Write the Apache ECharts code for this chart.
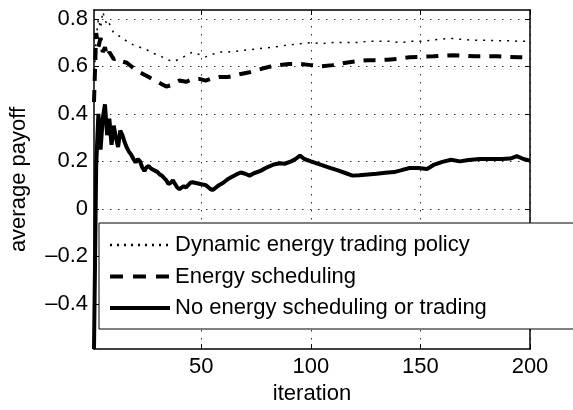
<!DOCTYPE html>
<html>
<head>
<meta charset="utf-8">
<script src="https://cdn.jsdelivr.net/npm/echarts@6/dist/echarts.min.js"></script>
<style>
  html, body { margin: 0; padding: 0; background: #fff; }
  #payoffChart { width: 573px; height: 410px; }
</style>
</head>
<body>
<div id="payoffChart"></div>
<script>
// tick labels
const xTicks = [50, 100, 150, 200];
const yTicks = [-0.4, -0.2, 0, 0.2, 0.4, 0.6, 0.8];

const seriesNames = ['Dynamic energy trading policy', 'Energy scheduling', 'No energy scheduling or trading'];

// Dynamic energy trading policy (dotted)
const policyIter = [1, 2, 3, 4, 5, 6, 7, 8, 10, 12, 14, 16, 19, 22, 25, 28, 31, 34, 37, 40, 43, 46, 49, 52, 55, 58, 62, 67, 72, 77, 82, 86, 90, 95, 100, 105, 110, 116, 121, 126, 131, 136, 141, 146, 150, 155, 160, 165, 170, 175, 180, 185, 190, 195, 200];
const policyVal = [0.55, 0.72, 0.80, 0.76, 0.83, 0.80, 0.77, 0.78, 0.74, 0.73, 0.72, 0.705, 0.69, 0.68, 0.67, 0.655, 0.645, 0.63, 0.62, 0.63, 0.645, 0.66, 0.65, 0.64, 0.65, 0.66, 0.66, 0.665, 0.67, 0.675, 0.68, 0.685, 0.69, 0.695, 0.70, 0.695, 0.70, 0.70, 0.70, 0.705, 0.705, 0.705, 0.70, 0.705, 0.705, 0.71, 0.715, 0.717, 0.712, 0.71, 0.71, 0.708, 0.708, 0.705, 0.705];

// Energy scheduling (dashed)
const schedIter = [1, 2, 3, 4, 5, 6, 7, 8, 10, 12, 14, 16, 18, 20, 22, 24, 26, 28, 30, 32, 34, 36, 38, 40, 43, 46, 49, 52, 55, 58, 62, 65, 68, 72, 77, 81, 85, 90, 95, 100, 105, 110, 116, 121, 126, 131, 135, 140, 145, 150, 156, 160, 165, 170, 175, 180, 185, 190, 195, 200];
const schedVal = [0.45, 0.74, 0.68, 0.72, 0.66, 0.68, 0.64, 0.66, 0.63, 0.635, 0.62, 0.615, 0.60, 0.585, 0.575, 0.565, 0.555, 0.545, 0.535, 0.525, 0.515, 0.52, 0.53, 0.54, 0.535, 0.545, 0.547, 0.54, 0.55, 0.555, 0.555, 0.56, 0.568, 0.575, 0.588, 0.598, 0.605, 0.61, 0.61, 0.605, 0.60, 0.605, 0.615, 0.622, 0.626, 0.626, 0.628, 0.632, 0.638, 0.64, 0.642, 0.645, 0.647, 0.645, 0.642, 0.642, 0.642, 0.64, 0.638, 0.638];

// No energy scheduling or trading (solid)
const noneIter = [1, 2, 3, 4, 5, 6, 7, 8, 9, 10, 11, 12, 13, 14, 15, 16, 17, 18, 19, 20, 21, 22, 23, 24, 25, 26, 27, 28, 29, 30, 31, 32, 33, 34, 35, 36, 37, 38, 39, 40, 41, 42, 43, 44, 45, 46, 48, 50, 52, 54, 55, 56, 58, 60, 62, 64, 66, 68, 70, 72, 74, 77, 80, 83, 86, 88, 91, 93, 95, 97, 100, 104, 108, 112, 116, 119, 122, 126, 130, 134, 138, 141, 145, 149, 153, 156, 160, 164, 168, 172, 177, 182, 187, 191, 194, 197, 200];
const noneVal = [-0.59, 0.18, 0.40, 0.25, 0.38, 0.44, 0.31, 0.38, 0.27, 0.35, 0.30, 0.26, 0.33, 0.31, 0.28, 0.257, 0.24, 0.228, 0.21, 0.195, 0.21, 0.20, 0.175, 0.16, 0.175, 0.18, 0.17, 0.165, 0.16, 0.155, 0.145, 0.14, 0.13, 0.12, 0.105, 0.11, 0.12, 0.105, 0.09, 0.083, 0.09, 0.095, 0.09, 0.10, 0.11, 0.112, 0.108, 0.104, 0.10, 0.085, 0.079, 0.085, 0.10, 0.11, 0.125, 0.135, 0.145, 0.153, 0.148, 0.14, 0.15, 0.16, 0.175, 0.187, 0.192, 0.19, 0.20, 0.21, 0.224, 0.21, 0.20, 0.187, 0.175, 0.163, 0.15, 0.14, 0.142, 0.145, 0.148, 0.152, 0.155, 0.162, 0.172, 0.172, 0.168, 0.185, 0.198, 0.207, 0.20, 0.206, 0.21, 0.21, 0.21, 0.212, 0.222, 0.21, 0.203];

const font = '"Liberation Sans", Arial, Helvetica, sans-serif';

function pairs(xs, ys) {
    return xs.map((x, i) => [x, ys[i]]);
}

const chart = echarts.init(document.getElementById('payoffChart'));

const gridLine = { show: true, lineStyle: { color: '#333', width: 1, type: [1.5, 6.5] } };
const boxLine = { show: true, onZero: false, lineStyle: { color: '#000', width: 1.5 } };
const tickStyle = { color: '#000', width: 1 };
const noMarker = { color: 'rgba(0,0,0,0)', borderColor: 'rgba(0,0,0,0)', borderWidth: 0 };

const option = {
    animation: false,
    backgroundColor: '#fff',
    grid: { left: 94, right: 43, top: 10, bottom: 56 },
    // legend frame runs off the right edge, like the original figure
    graphic: [{
        type: 'rect', z: 3, silent: true,
        shape: { x: 99, y: 223, width: 500, height: 106 },
        style: { fill: '#fff', stroke: '#000', lineWidth: 1 }
    }],
    legend: {
        orient: 'vertical',
        left: 99,
        top: 223,
        padding: [10, 20, 8, 9],
        itemGap: 7.5,
        itemWidth: 60,
        itemHeight: 14,
        borderWidth: 0,
        itemStyle: noMarker,
        textStyle: { fontFamily: font, fontSize: 22, color: '#000', lineHeight: 24 },
        data: [
            { name: seriesNames[0], itemStyle: noMarker, lineStyle: { color: '#000', width: 2.5, type: [2, 5] } },
            { name: seriesNames[1], itemStyle: noMarker, lineStyle: { color: '#000', width: 4, type: [13, 10] } },
            { name: seriesNames[2], itemStyle: noMarker, lineStyle: { color: '#000', width: 4, type: 'solid' } }
        ]
    },
    xAxis: [
        {
            type: 'value', min: 1, max: 200,
            name: 'iteration', nameLocation: 'middle', nameGap: 27,
            nameTextStyle: { fontFamily: font, fontSize: 22, color: '#000' },
            axisLine: boxLine,
            axisTick: { show: true, inside: true, length: 5, customValues: xTicks, lineStyle: tickStyle },
            axisLabel: { customValues: xTicks, margin: 7, fontFamily: font, fontSize: 22, color: '#000' },
            splitLine: gridLine
        },
        {
            type: 'value', min: 1, max: 200, position: 'top',
            axisLine: boxLine,
            axisTick: { show: true, inside: true, length: 5, customValues: xTicks, lineStyle: tickStyle },
            axisLabel: { show: false },
            splitLine: { show: false }
        }
    ],
    yAxis: [
        {
            type: 'value', min: -0.59, max: 0.837,
            name: 'average payoff', nameLocation: 'middle', nameGap: 64,
            nameTextStyle: { fontFamily: font, fontSize: 22, color: '#000' },
            axisLine: boxLine,
            axisTick: { show: true, inside: true, length: 5, customValues: yTicks, lineStyle: tickStyle },
            axisLabel: {
                customValues: yTicks, margin: 6, fontFamily: font, fontSize: 22, color: '#000',
                formatter: v => (v < 0 ? '\u2013' + String(Math.abs(v)) : String(v))
            },
            splitLine: gridLine
        },
        {
            type: 'value', min: -0.59, max: 0.837, position: 'right',
            axisLine: boxLine,
            axisTick: { show: true, inside: true, length: 5, customValues: yTicks, lineStyle: tickStyle },
            axisLabel: { show: false },
            splitLine: { show: false }
        }
    ],
    series: [
        {
            name: seriesNames[0], type: 'line', symbol: 'none',
            data: pairs(policyIter, policyVal),
            lineStyle: { color: '#000', width: 1.5, type: [2, 6] },
            itemStyle: { color: '#000' }
        },
        {
            name: seriesNames[1], type: 'line', symbol: 'none',
            data: pairs(schedIter, schedVal),
            lineStyle: { color: '#000', width: 4, type: [12, 9] },
            itemStyle: { color: '#000' }
        },
        {
            name: seriesNames[2], type: 'line', symbol: 'none',
            data: pairs(noneIter, noneVal),
            lineStyle: { color: '#000', width: 4, type: 'solid' },
            itemStyle: { color: '#000' }
        }
    ]
};

chart.setOption(option);
</script>
</body>
</html>
